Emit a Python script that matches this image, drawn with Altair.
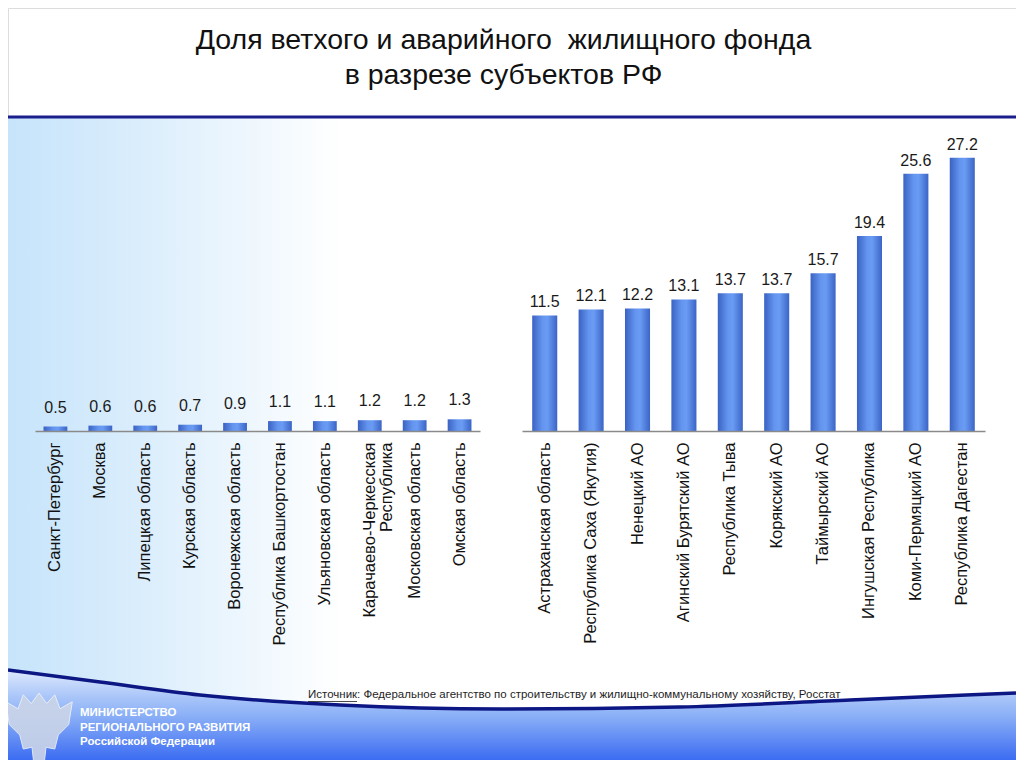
import altair as alt
import pandas as pd

# ---------------- data ----------------
left_regions = ["Санкт-Петербург", "Москва", "Липецкая область", "Курская область",
                "Воронежская область", "Республика Башкортостан", "Ульяновская область",
                "Карачаево-Черкесская\nРеспублика", "Московская область", "Омская область"]
left_values = [0.5, 0.6, 0.6, 0.7, 0.9, 1.1, 1.1, 1.2, 1.2, 1.3]

right_regions = ["Астраханская область", "Республика Саха (Якутия)", "Ненецкий АО",
                 "Агинский Бурятский АО", "Республика Тыва", "Корякский АО",
                 "Таймырский АО", "Ингушская Республика", "Коми-Пермяцкий АО",
                 "Республика Дагестан"]
right_values = [11.5, 12.1, 12.2, 13.1, 13.7, 13.7, 15.7, 19.4, 25.6, 27.2]

title_lines = ["Доля ветхого и аварийного \u00a0жилищного фонда", "в разрезе субъектов РФ"]
source_text = "Источник: Федеральное агентство по строительству и жилищно-коммунальному хозяйству, Росстат"
ministry_lines = ["МИНИСТЕРСТВО", "РЕГИОНАЛЬНОГО РАЗВИТИЯ", "Российской Федерации"]

# decorative footer curve (chart pixel coords)
curve_x = [0, 92, 192, 332, 492, 672, 842, 1008]
curve_y = [662, 674, 687, 697, 701, 699, 692, 685]

FONT = "Liberation Sans"
W, H, PB = 1008, 423, 329

left_df = pd.DataFrame({"region": left_regions, "value": left_values})
right_df = pd.DataFrame({"region": right_regions, "value": right_values})
curve_df = pd.DataFrame({"cx": curve_x, "cy": curve_y, "base": [H + PB] * len(curve_x)})
one = alt.Data(values=[{"a": 1}])

bar_fill = alt.LinearGradient(
    gradient="linear", x1=0, x2=1, y1=0, y2=0,
    stops=[alt.GradientStop(offset=0, color="#3a62c2"),
           alt.GradientStop(offset=0.4, color="#6394ef"),
           alt.GradientStop(offset=0.6, color="#6a9cf4"),
           alt.GradientStop(offset=1, color="#3b64c6")])


def axis_x():
    return alt.Axis(orient="bottom", title=None, labelAngle=-90, labelFontSize=16.5,
                    labelFont=FONT, labelColor="#111111", labelPadding=11, ticks=False,
                    domainColor="#8a8a8a", domainWidth=1.6, labelLimit=400,
                    labelLineHeight=17, labelExpr="split(datum.label, '\\n')", grid=False,
                    zindex=2)


def panel(df, rng, pin, pout, ymax, dy):
    base = alt.Chart(df).encode(
        x=alt.X("region:N", sort=None, axis=axis_x(),
                scale=alt.Scale(range=rng, paddingInner=pin, paddingOuter=pout)),
        y=alt.Y("value:Q", axis=None, scale=alt.Scale(domain=[0, ymax], nice=False, zero=True)),
    )
    bars = base.mark_bar(color=bar_fill)
    labels = base.mark_text(font=FONT, fontSize=16, color="#1a1a1a", dy=dy,
                            baseline="middle").encode(text=alt.Text("value:Q", format=".1f"))
    return alt.layer(bars, labels)


left = panel(left_df, [27, 472], 0.47, 0.19, 47, -19)
right = panel(right_df, [514, 977], 0.46, 0.22, 42.1, -13)

# ---------------- decorations ----------------
bg_grad = alt.LinearGradient(
    gradient="linear", x1=0, x2=1, y1=0, y2=0,
    stops=[alt.GradientStop(offset=0, color="#c6e4fb"),
           alt.GradientStop(offset=0.14, color="#dceefc"),
           alt.GradientStop(offset=0.33, color="#ffffff"),
           alt.GradientStop(offset=1, color="#ffffff")])
bg = alt.Chart(one).mark_rect(color=bg_grad).encode(
    x=alt.value(0), x2=alt.value(W), y=alt.value(110), y2=alt.value(H + PB))

top_line = alt.Chart(one).mark_rect(color="#1b1f8c").encode(
    x=alt.value(0), x2=alt.value(W), y=alt.value(107.5), y2=alt.value(110.5))

foot_grad = alt.LinearGradient(
    gradient="linear", x1=0, x2=0, y1=0, y2=1,
    stops=[alt.GradientStop(offset=0, color="#dfeafd"),
           alt.GradientStop(offset=0.3, color="#a9c5f9"),
           alt.GradientStop(offset=0.5, color="#8cb1f7"),
           alt.GradientStop(offset=1, color="#3c6cf2")])
cx = alt.X("cx:Q", axis=None, scale=alt.Scale(domain=[0, W], range=[0, W], nice=False, zero=False))
cy = alt.Y("cy:Q", axis=None, scale=alt.Scale(domain=[0, H + PB], range=[0, H + PB], nice=False, zero=False))
foot_area = alt.Chart(curve_df).mark_area(color=foot_grad, interpolate="monotone").encode(
    x=cx, y=cy, y2="base:Q")
foot_line = alt.Chart(curve_df).mark_line(color="#0d1784", strokeWidth=3.5,
                                          interpolate="monotone").encode(x=cx, y=cy)

# pale emblem silhouette (decoration)
emblem_path = ("M0,-1 L0.22,-0.7 L0.45,-0.95 L0.6,-0.55 L0.95,-0.75 L0.85,-0.1 L0.55,0.2 "
               "L0.45,0.6 L0.2,0.55 L0.15,1 L-0.15,1 L-0.2,0.55 L-0.45,0.6 L-0.55,0.2 "
               "L-0.85,-0.1 L-0.95,-0.75 L-0.6,-0.55 L-0.45,-0.95 L-0.22,-0.7 Z")
emblem = alt.Chart(one).mark_point(shape=emblem_path, filled=True, size=4900,
                                   color="#cbd5e8", opacity=0.9, stroke="#eef2fa",
                                   strokeWidth=1).encode(x=alt.value(31), y=alt.value(720))


def txt(s, x, y, size, color="#111111", weight="normal", align="center"):
    return alt.Chart(one).mark_text(text=s, font=FONT, fontSize=size, color=color,
                                    fontWeight=weight, align=align, baseline="middle").encode(
        x=alt.value(x), y=alt.value(y))


title1 = txt(title_lines[0], 495.5, 32, 28.5)
title2 = txt(title_lines[1], 495.5, 67, 28.5)
source = txt(source_text, 300, 687, 11.5, color="#1e1e1e", align="left")
underline = alt.Chart(one).mark_rule(color="#1e1e1e", strokeWidth=0.8).encode(
    x=alt.value(300), x2=alt.value(349), y=alt.value(693.5))
min1 = txt(ministry_lines[0], 72, 705, 11.5, color="#ffffff", weight="bold", align="left")
min2 = txt(ministry_lines[1], 72, 720, 11.5, color="#ffffff", weight="bold", align="left")
min3 = txt(ministry_lines[2], 72, 734, 11.5, color="#ffffff", weight="bold", align="left")

chart = alt.layer(
    bg, top_line, foot_area, foot_line, emblem, left, right,
    title1, title2, source, underline, min1, min2, min3
).resolve_scale(x="independent", y="independent").resolve_axis(
    x="independent", y="independent"
).properties(
    width=W, height=H,
    autosize=alt.AutoSizeParams(type="none"),
    padding={"left": 0, "top": 0, "right": 0, "bottom": PB},
).configure_view(stroke=None).configure(background="#ffffff")

chart.save("out.html", embed_options={"renderer": "svg", "actions": False})
